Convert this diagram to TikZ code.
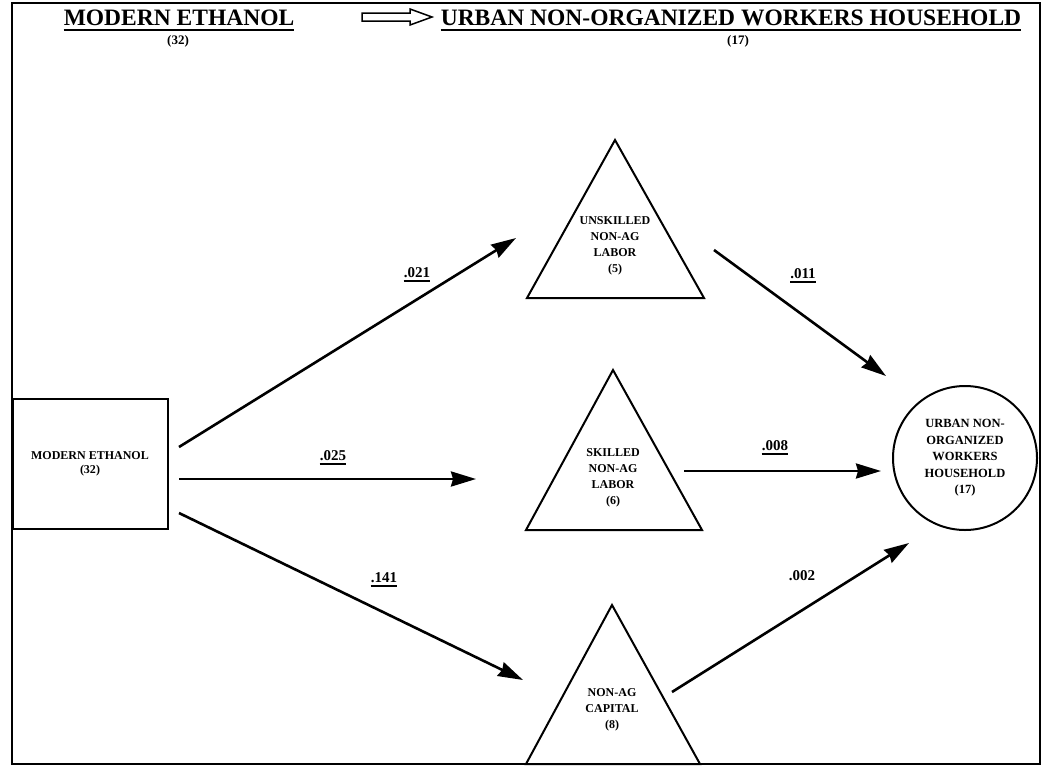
\documentclass[tikz,border=0pt]{standalone}
\usepackage{fontspec}
\setmainfont{Liberation Serif}
\usetikzlibrary{arrows.meta}
\begin{document}
\begin{tikzpicture}[x=1pt,y=-1pt,
  every node/.style={inner sep=0pt, align=center},
  shapeline/.style={line width=2pt},
  flow/.style={line width=2.6pt, -{Stealth[length=25pt,width=15pt,inset=2pt]}},
  ttl/.style={font=\fontsize{23.5}{28}\selectfont\bfseries},
  sub/.style={font=\fontsize{13}{15}\selectfont\bfseries},
  inn/.style={font=\fontsize{12}{16}\selectfont\bfseries},
  boxtxt/.style={font=\fontsize{12}{14}\selectfont\bfseries},
  val/.style={font=\fontsize{15}{17}\selectfont\bfseries},
  ul/.style={line width=1.5pt},
]
\useasboundingbox (0,0) rectangle (1041,766);
% frame
\draw[line width=1.5pt] (12,3) rectangle (1040,764);

% titles
\node[ttl] (t1) at (179,18) {MODERN ETHANOL};
\draw[line width=2pt] ([yshift=-4pt]t1.south west) -- ([yshift=-4pt]t1.south east);
\node[sub] (t1n) at (178,41) {(32)};
\node[ttl] (t2) at (731,18) {URBAN NON-ORGANIZED WORKERS HOUSEHOLD};
\draw[line width=2pt] ([yshift=-4pt]t2.south west) -- ([yshift=-4pt]t2.south east);
\node[sub] (t2n) at (738,41) {(17)};
\draw[line width=1.5pt] (362,13) -- (410,13) -- (410,9) -- (432,17) -- (410,25) -- (410,21) -- (362,21) -- cycle;

% source box
\node[draw, shapeline, minimum width=155pt, minimum height=130pt, boxtxt] (me) at (90,464) {MODERN ETHANOL\\(32)};

% triangles
\coordinate (t1a) at (615,140); \coordinate (t1l) at (527,298); \coordinate (t1r) at (704,298);
\coordinate (t2a) at (613,370); \coordinate (t2l) at (526,530); \coordinate (t2r) at (702,530);
\coordinate (t3a) at (612,605); \coordinate (t3l) at (526,764); \coordinate (t3r) at (700,764);
\draw[shapeline, line join=miter] (t1a) -- (t1l) -- (t1r) -- cycle;
\draw[shapeline, line join=miter] (t2a) -- (t2l) -- (t2r) -- cycle;
\draw[shapeline, line join=miter] (t3a) -- (t3l) -- (t3r) -- cycle;
\node[inn] (unsk) at (615,246) {UNSKILLED\\NON-AG\\LABOR\\(5)};
\node[inn] (sk) at (613,478) {SKILLED\\NON-AG\\LABOR\\(6)};
\node[inn] (cap) at (612,710) {NON-AG\\CAPITAL\\(8)};

% household circle
\node[draw, circle, shapeline, minimum size=144pt, font=\fontsize{12.5}{16.5}\selectfont\bfseries] (hh) at (965,458) {URBAN NON-\\ORGANIZED\\WORKERS\\HOUSEHOLD\\(17)};

% connector end points
\coordinate (a1s) at (179,447); \coordinate (a1e) at (516,238);
\coordinate (a2s) at (179,479); \coordinate (a2e) at (476,479);
\coordinate (a3s) at (179,513); \coordinate (a3e) at (523,680);
\coordinate (b1s) at (714,250); \coordinate (b1e) at (886,376);
\coordinate (b2s) at (684,471); \coordinate (b2e) at (881,471);
\coordinate (b3s) at (672,692); \coordinate (b3e) at (909,543);

\draw[flow] (a1s) -- (a1e);
\draw[flow] (a2s) -- (a2e);
\draw[flow] (a3s) -- (a3e);
\draw[flow] (b1s) -- (b1e);
\draw[flow] (b2s) -- (b2e);
\draw[flow] (b3s) -- (b3e);

% values
\node[val] (v1) at (417,273) {.021};
\draw[ul] ([yshift=-2.5pt]v1.south west) -- ([yshift=-2.5pt]v1.south east);
\node[val] (v2) at (333,456) {.025};
\draw[ul] ([yshift=-2.5pt]v2.south west) -- ([yshift=-2.5pt]v2.south east);
\node[val] (v3) at (384,578) {.141};
\draw[ul] ([yshift=-2.5pt]v3.south west) -- ([yshift=-2.5pt]v3.south east);
\node[val] (v4) at (803,274) {.011};
\draw[ul] ([yshift=-2.5pt]v4.south west) -- ([yshift=-2.5pt]v4.south east);
\node[val] (v5) at (775,446) {.008};
\draw[ul] ([yshift=-2.5pt]v5.south west) -- ([yshift=-2.5pt]v5.south east);
\node[val] (v6) at (802,576) {.002};
\end{tikzpicture}
\end{document}
